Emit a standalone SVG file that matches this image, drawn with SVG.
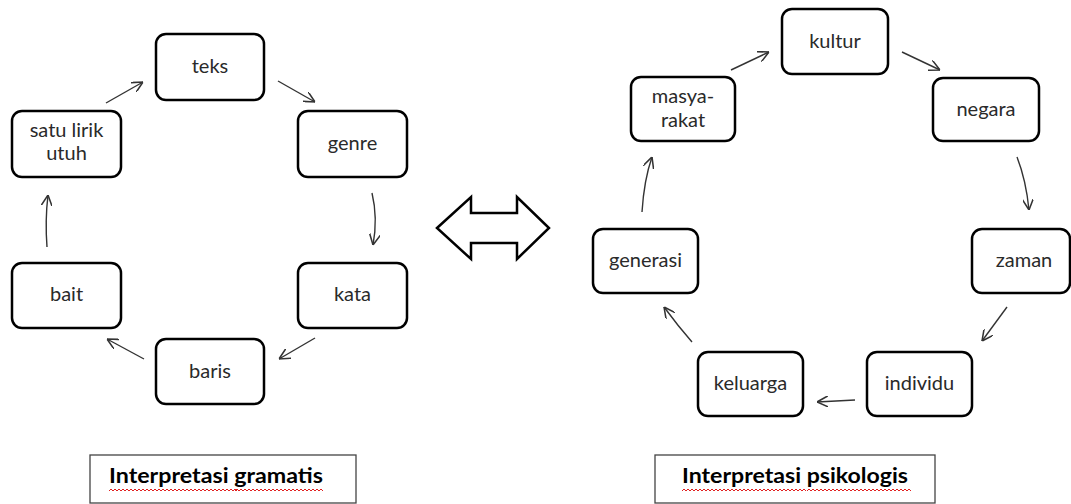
<svg xmlns="http://www.w3.org/2000/svg" width="1071" height="504" viewBox="0 0 1071 504">
<style>
.node rect{fill:#fff;stroke:#000;stroke-width:2.5}
.node text{font-family:Lato,"Liberation Sans",sans-serif;font-size:20px;fill:#2a2a2a;text-anchor:middle}
.conn path{fill:none;stroke:#333;stroke-width:1.4}
.lbl rect{fill:#fff;stroke:#444;stroke-width:1.3}
.lbl text{font-family:Lato,"Liberation Sans",sans-serif;font-size:20px;font-weight:bold;fill:#000;text-anchor:middle}
.squig{fill:none;stroke:#e02020;stroke-width:1}
</style>
<defs>
<marker id="ah" viewBox="0 0 10 10" refX="10" refY="5" markerWidth="11" markerHeight="11" markerUnits="userSpaceOnUse" orient="auto">
<path d="M0,0 L10,5 L0,10" fill="none" stroke="#333" stroke-width="1.4"/>
</marker>
</defs>
<rect width="1071" height="504" fill="#fff"/>

<g id="teks" class="node"><rect x="156" y="34" width="108" height="66" rx="10"/><text x="210" y="73">teks</text></g>
<g id="genre" class="node"><rect x="298" y="111" width="109" height="66" rx="10"/><text x="352.5" y="150">genre</text></g>
<g id="kata" class="node"><rect x="298" y="263" width="109" height="65" rx="10"/><text x="352.5" y="301">kata</text></g>
<g id="baris" class="node"><rect x="156" y="339" width="108" height="65" rx="10"/><text x="210" y="378">baris</text></g>
<g id="bait" class="node"><rect x="12" y="263" width="109" height="65" rx="10"/><text x="66.5" y="301">bait</text></g>
<g id="satu-lirik-utuh" class="node"><rect x="12" y="111" width="109" height="66" rx="10"/><text x="66.5" y="137">satu lirik</text><text x="66.5" y="160">utuh</text></g>

<g id="double-arrow"><polygon points="437,228 471,197 471,213 517,213 517,197 549,228 517,259 517,243 471,243 471,259" fill="#fff" stroke="#000" stroke-width="2.5" stroke-linejoin="miter"/></g>

<g id="kultur" class="node"><rect x="782" y="9" width="106" height="65" rx="10"/><text x="835" y="48">kultur</text></g>
<g id="negara" class="node"><rect x="933" y="78" width="106" height="63" rx="10"/><text x="986" y="116">negara</text></g>
<g id="zaman" class="node"><rect x="972" y="229" width="98" height="64" rx="10"/><text x="1024" y="267">zaman</text></g>
<g id="individu" class="node"><rect x="867" y="352" width="105" height="64" rx="10"/><text x="919.5" y="390">individu</text></g>
<g id="keluarga" class="node"><rect x="698" y="352" width="105" height="64" rx="10"/><text x="750.5" y="390">keluarga</text></g>
<g id="generasi" class="node"><rect x="593" y="229" width="105" height="64" rx="10"/><text x="645.5" y="267">generasi</text></g>
<g id="masyarakat" class="node"><rect x="631" y="77" width="104" height="64" rx="10"/><text x="683" y="103">masya-</text><text x="683" y="127">rakat</text></g>

<g id="connectors" class="conn">
<path d="M106,103 L143,82" marker-end="url(#ah)"/>
<path d="M278,81 L315,102" marker-end="url(#ah)"/>
<path d="M372,193 Q378,218 373,245" marker-end="url(#ah)"/>
<path d="M315,338 L279,359" marker-end="url(#ah)"/>
<path d="M144,359 L107,339" marker-end="url(#ah)"/>
<path d="M47,247 Q45,220 48,195" marker-end="url(#ah)"/>
<path d="M642,212 Q644,180 652,157" marker-end="url(#ah)"/>
<path d="M731,70 L769,52" marker-end="url(#ah)"/>
<path d="M902,52 L940,70" marker-end="url(#ah)"/>
<path d="M1017,157 Q1026,180 1029,210" marker-end="url(#ah)"/>
<path d="M1007,307 L982,341" marker-end="url(#ah)"/>
<path d="M855,400 L817,402" marker-end="url(#ah)"/>
<path d="M692,342 Q678,326 664,307" marker-end="url(#ah)"/>
</g>

<g id="label-gramatis" class="lbl"><rect x="90" y="455" width="266" height="48"/><text x="216" y="483" textLength="214" lengthAdjust="spacingAndGlyphs">Interpretasi gramatis</text>
<path class="squig" d="M109,491 l2,-2 l2,2 l2,-2 l2,2 l2,-2 l2,2 l2,-2 l2,2 l2,-2 l2,2 l2,-2 l2,2 l2,-2 l2,2 l2,-2 l2,2 l2,-2 l2,2 l2,-2 l2,2 l2,-2 l2,2 l2,-2 l2,2 l2,-2 l2,2 l2,-2 l2,2 l2,-2 l2,2 l2,-2 l2,2 l2,-2 l2,2 l2,-2 l2,2 l2,-2 l2,2 l2,-2 l2,2 l2,-2 l2,2 l2,-2 l2,2 l2,-2 l2,2 l2,-2 l2,2 l2,-2 l2,2 l2,-2 l2,2 l2,-2 l2,2 l2,-2 l2,2 l2,-2 l2,2 l2,-2 l2,2 l2,-2 l2,2 l2,-2 l2,2"/>
<path class="squig" d="M235,491 l2,-2 l2,2 l2,-2 l2,2 l2,-2 l2,2 l2,-2 l2,2 l2,-2 l2,2 l2,-2 l2,2 l2,-2 l2,2 l2,-2 l2,2 l2,-2 l2,2 l2,-2 l2,2 l2,-2 l2,2 l2,-2 l2,2 l2,-2 l2,2 l2,-2 l2,2 l2,-2 l2,2 l2,-2 l2,2 l2,-2 l2,2 l2,-2 l2,2 l2,-2 l2,2 l2,-2 l2,2 l2,-2 l2,2 l2,-2 l2,2"/>
</g>
<g id="label-psikologis" class="lbl"><rect x="655" y="455" width="280" height="48"/><text x="795" y="483" textLength="226" lengthAdjust="spacingAndGlyphs">Interpretasi psikologis</text>
<path class="squig" d="M682,491 l2,-2 l2,2 l2,-2 l2,2 l2,-2 l2,2 l2,-2 l2,2 l2,-2 l2,2 l2,-2 l2,2 l2,-2 l2,2 l2,-2 l2,2 l2,-2 l2,2 l2,-2 l2,2 l2,-2 l2,2 l2,-2 l2,2 l2,-2 l2,2 l2,-2 l2,2 l2,-2 l2,2 l2,-2 l2,2 l2,-2 l2,2 l2,-2 l2,2 l2,-2 l2,2 l2,-2 l2,2 l2,-2 l2,2 l2,-2 l2,2 l2,-2 l2,2 l2,-2 l2,2 l2,-2 l2,2 l2,-2 l2,2 l2,-2 l2,2 l2,-2 l2,2 l2,-2 l2,2 l2,-2 l2,2 l2,-2 l2,2"/>
<path class="squig" d="M807,491 l2,-2 l2,2 l2,-2 l2,2 l2,-2 l2,2 l2,-2 l2,2 l2,-2 l2,2 l2,-2 l2,2 l2,-2 l2,2 l2,-2 l2,2 l2,-2 l2,2 l2,-2 l2,2 l2,-2 l2,2 l2,-2 l2,2 l2,-2 l2,2 l2,-2 l2,2 l2,-2 l2,2 l2,-2 l2,2 l2,-2 l2,2 l2,-2 l2,2 l2,-2 l2,2 l2,-2 l2,2 l2,-2 l2,2 l2,-2 l2,2 l2,-2 l2,2 l2,-2 l2,2 l2,-2 l2,2 l2,-2 l2,2"/>
</g>
</svg>
